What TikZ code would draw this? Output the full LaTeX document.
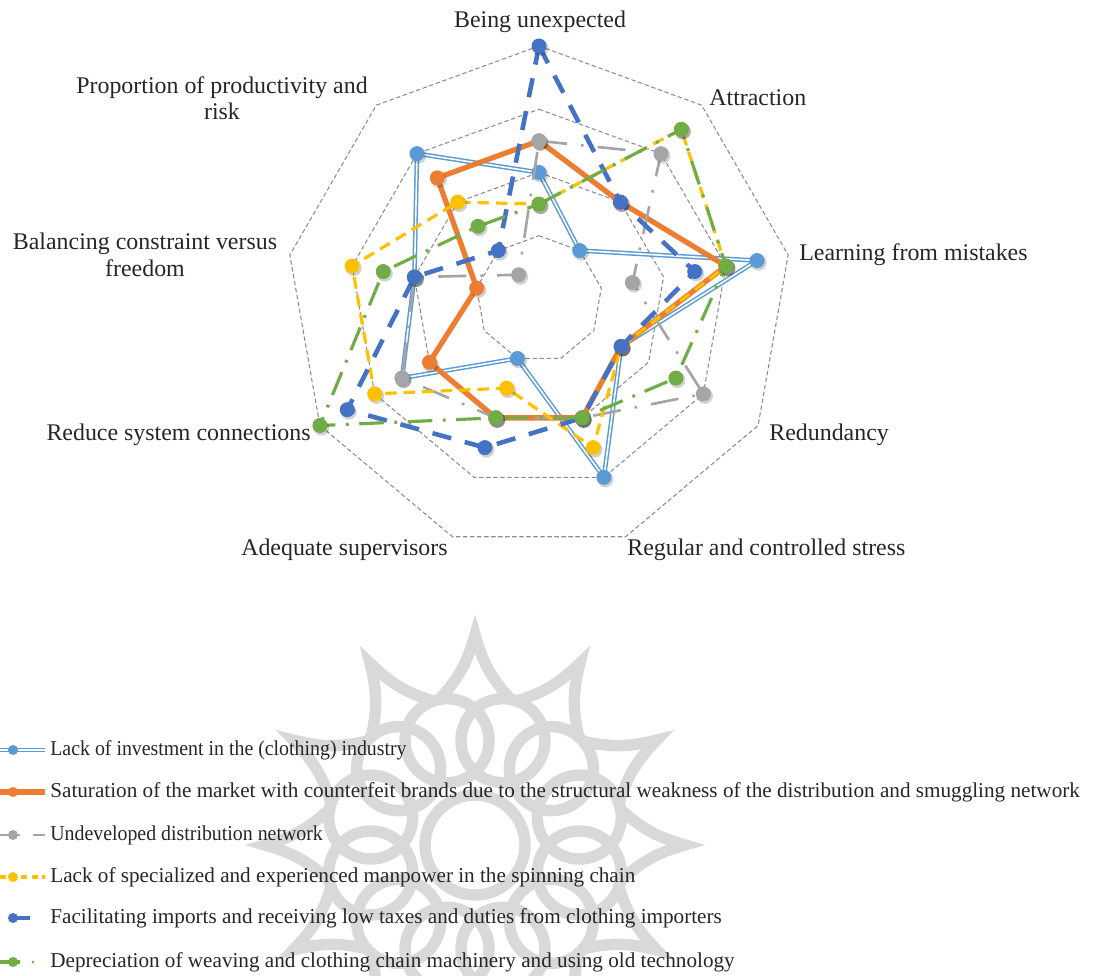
\documentclass[tikz,border=0pt]{standalone}
\usepackage{fontspec}
\setmainfont{Liberation Serif}
\usetikzlibrary{calc}
\definecolor{cLB}{HTML}{5B9BD5}
\definecolor{cOR}{HTML}{ED7D31}
\definecolor{cGR}{HTML}{A5A5A5}
\definecolor{cYE}{HTML}{FFC000}
\definecolor{cDB}{HTML}{4472C4}
\definecolor{cGN}{HTML}{70AD47}
\definecolor{gridc}{HTML}{8C8C8C}
\definecolor{wmc}{HTML}{D9D9D9}
\newcommand\mkseries[2]{%
  \foreach \v [count=\k from 0] in {#2}{%
    \coordinate (#1-\k) at ($(539,299)+({40*\k-90}:{\v*63.25})$);}}
\begin{document}
\begin{tikzpicture}[x=0.02cm,y=-0.02cm,
  gridline/.style={draw=gridc,line width=0.6pt,dash pattern=on 2.5pt off 1.5pt},
  lab/.style={inner sep=0pt,font=\fontsize{13.6}{15}\selectfont,text=black!85},
  leg/.style={inner sep=0pt,anchor=west,font=\fontsize{12.05}{14}\selectfont,text=black!85},
  lbline/.style={draw=cLB,line width=0.85pt,double=white,double distance=0.9pt,line join=round},
  orline/.style={draw=cOR,line width=3pt,line join=round},
  grline/.style={draw=cGR,line width=1.5pt,dash pattern=on 16pt off 8pt on 1.5pt off 8pt},
  yeline/.style={draw=cYE,line width=1.8pt,dash pattern=on 6.5pt off 4pt},
  dbline/.style={draw=cDB,line width=2.6pt,dash pattern=on 11pt off 8pt},
  gnline/.style={draw=cGN,line width=1.8pt,dash pattern=on 14pt off 6pt on 1.6pt off 6pt},
  mk/.style={fill=#1},
  shd/.style={fill=black,opacity=0.18},
  wmline/.style={draw=wmc,line width=6.5pt}]
\useasboundingbox (0,0) rectangle (1095,976);

% watermark
\coordinate (W) at (475,845);
\foreach \i in {0,...,11}{
  \pgfmathsetmacro\aa{90+30*\i}
  \draw[wmline] ($(W)+({-(\aa-15)}:148)$) to[bend left=14] ($(W)+({-\aa}:210)$) to[bend left=14] ($(W)+({-(\aa+15)}:148)$);
  \draw[wmline] ($(W)+({-(\aa+15)}:108)$) circle (42);
}
\draw[wmline] (W) circle (50);

% grid
\foreach \r in {1,2,3,4}{
  \foreach \k in {0,...,8}{\coordinate (g\r-\k) at ($(539,299)+({40*\k-90}:{\r*63.25})$);}
  \draw[gridline] (g\r-0)--(g\r-1)--(g\r-2)--(g\r-3)--(g\r-4)--(g\r-5)--(g\r-6)--(g\r-7)--(g\r-8)--cycle;
}

% series data
\mkseries{lb}{2,1,3.5,1.5,3,1,2.5,2,3}
\mkseries{or}{2.5,2,3,1.5,2,2,2,1,2.5}
\mkseries{gr}{2.5,3,1.5,3,2,2,2.5,2,0.5}
\mkseries{ye}{1.5,3.5,3,1.5,2.5,1.5,3,3,2}
\mkseries{db}{4,2,2.5,1.5,2,2.5,3.5,2,1}
\mkseries{gn}{1.5,3.5,3,2.5,2,2,4,2.5,1.5}

\foreach \s/\c in {lb/cLB,or/cOR,gr/cGR,ye/cYE,db/cDB,gn/cGN}{
  \draw[\s line] (\s-0)--(\s-1)--(\s-2)--(\s-3)--(\s-4)--(\s-5)--(\s-6)--(\s-7)--(\s-8)--cycle;
  \foreach \k in {0,...,8}{
    \fill[shd] ($(\s-\k)+(1.5,2)$) circle (8);
    \fill[mk=\c] (\s-\k) circle (7.5);
  }
}

% axis labels
\node[lab] (L0) at (540,22) {Being unexpected};
\node[lab,anchor=west] (L1) at (709,98) {Attraction};
\node[lab,anchor=west] (L2) at (799,255) {Learning from mistakes};
\node[lab,anchor=west] (L3) at (769,435) {Redundancy};
\node[lab,anchor=west] (L4) at (627,550) {Regular and controlled stress};
\node[lab,anchor=east] (L5) at (448,550) {Adequate supervisors};
\node[lab,anchor=east] (L6) at (311,435) {Reduce system connections};
\node[lab,align=center] (L7) at (145,255) {Balancing constraint versus\\freedom};
\node[lab,align=center] (L8) at (222,98) {Proportion of productivity and\\risk};

% legend
\coordinate (a1) at (0,750); \coordinate (b1) at (45,750); \coordinate (m1) at (13,750);
\draw[lbline] (a1)--(b1); \fill[mk=cLB] (m1) circle (5);
\node[leg] (T1) at (50,750) {\scalebox{0.938}[1]{Lack of investment in the (clothing) industry}};

\coordinate (a2) at (0,792); \coordinate (b2) at (45,792); \coordinate (m2) at (13,792);
\draw[orline] (a2)--(b2); \fill[mk=cOR] (m2) circle (5);
\node[leg] (T2) at (50,792) {Saturation of the market with counterfeit brands due to the structural weakness of the distribution and smuggling network};

\coordinate (a3) at (0,835); \coordinate (b3) at (20,835); \coordinate (c3) at (33,835); \coordinate (d3) at (45,835); \coordinate (m3) at (13,835);
\draw[draw=cGR,line width=1.5pt] (a3)--(b3) (c3)--(d3); \fill[mk=cGR] (m3) circle (5);
\node[leg] (T3) at (50,835) {\scalebox{0.938}[1]{Undeveloped distribution network}};

\coordinate (a4) at (0,877); \coordinate (b4) at (45,877); \coordinate (m4) at (13,877);
\draw[draw=cYE,line width=1.8pt,dash pattern=on 3.5pt off 2.5pt] (a4)--(b4); \fill[mk=cYE] (m4) circle (5);
\node[leg] (T4) at (50,877) {Lack of specialized and experienced manpower in the spinning chain};

\coordinate (a5) at (13,918); \coordinate (b5) at (30,918); \coordinate (m5) at (13,918);
\draw[draw=cDB,line width=2.6pt] (a5)--(b5); \fill[mk=cDB] (m5) circle (5);
\node[leg] (T5) at (50,918) {Facilitating imports and receiving low taxes and duties from clothing importers};

\coordinate (a6) at (0,962); \coordinate (b6) at (20,962); \coordinate (c6) at (33,962); \coordinate (m6) at (13,962);
\draw[draw=cGN,line width=1.8pt] (a6)--(b6); \fill[cGN] (c6) circle (1.5); \fill[mk=cGN] (m6) circle (5);
\node[leg] (T6) at (50,962) {Depreciation of weaving and clothing chain machinery and using old technology};
\end{tikzpicture}
\end{document}
